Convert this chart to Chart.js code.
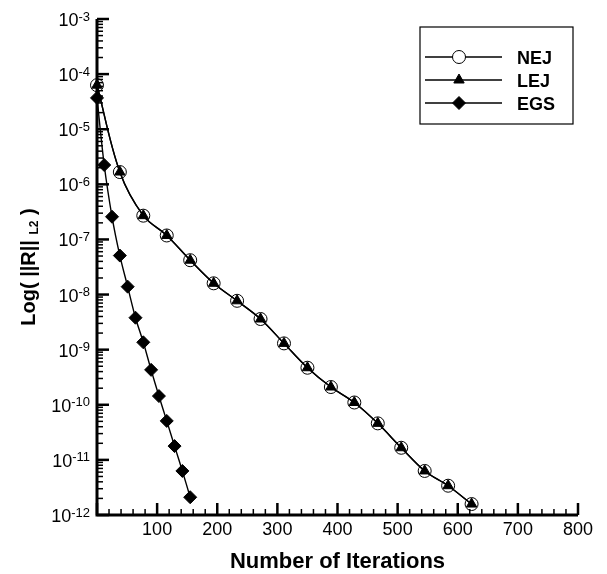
<!DOCTYPE html>
<html>
<head>
<meta charset="utf-8">
<script src="https://cdn.jsdelivr.net/npm/chart.js@4.4.0/dist/chart.umd.min.js"></script>
<style>
  html, body { margin: 0; padding: 0; background: #fff; }
  #wrap { width: 607px; height: 574px; }
</style>
</head>
<body>
<div id="wrap"><canvas id="resChart" width="607" height="574"></canvas></div>
<script>
// Residual history
const iterNEJ = [0, 38, 77, 116, 155, 194, 233, 272, 311, 350, 389, 428, 467, 506, 545, 584, 623];
const resNEJ = [6.3e-5, 1.67e-6, 2.7e-7, 1.18e-7, 4.2e-8, 1.6e-8, 7.7e-9, 3.6e-9, 1.3e-9, 4.7e-10, 2.1e-10, 1.1e-10, 4.6e-11, 1.66e-11, 6.3e-12, 3.4e-12, 1.58e-12];
const iterLEJ = [0, 38, 77, 116, 155, 194, 233, 272, 311, 350, 389, 428, 467, 506, 545, 584, 623];
const resLEJ = [6.3e-5, 1.67e-6, 2.7e-7, 1.18e-7, 4.2e-8, 1.6e-8, 7.7e-9, 3.6e-9, 1.3e-9, 4.7e-10, 2.1e-10, 1.1e-10, 4.6e-11, 1.66e-11, 6.3e-12, 3.4e-12, 1.58e-12];
const iterEGS = [0, 12, 25, 38, 51, 64, 77, 90, 103, 116, 129, 142, 155];
const resEGS = [3.7e-5, 2.24e-6, 2.58e-7, 5.1e-8, 1.39e-8, 3.8e-9, 1.36e-9, 4.3e-10, 1.44e-10, 5.1e-11, 1.78e-11, 6.3e-12, 2.1e-12];

const seriesNames = ['NEJ', 'LEJ', 'EGS'];
const xTickLabels = [100, 200, 300, 400, 500, 600, 700, 800];
const yTickExponents = [-3, -4, -5, -6, -7, -8, -9, -10, -11, -12];

const FONT = '"Liberation Sans", Arial, sans-serif';

function toPoints(xs, ys) {
    return xs.map((v, i) => ({ x: v, y: ys[i] }));
}

function line(ctx, x1, y1, x2, y2) {
    ctx.beginPath();
    ctx.moveTo(x1, y1);
    ctx.lineTo(x2, y2);
    ctx.stroke();
}

function drawShape(ctx, style, r, cx, cy) {
    if (style === 'circle') {
        ctx.arc(cx, cy, r, 0, Math.PI * 2);
    } else if (style === 'triangle') {
        ctx.moveTo(cx, cy - r);
        ctx.lineTo(cx + r * 0.866, cy + r * 0.5);
        ctx.lineTo(cx - r * 0.866, cy + r * 0.5);
        ctx.closePath();
    } else {
        ctx.moveTo(cx, cy - r);
        ctx.lineTo(cx + r, cy);
        ctx.lineTo(cx, cy + r);
        ctx.lineTo(cx - r, cy);
        ctx.closePath();
    }
}

// axes with inward ticks, drawn before the data so markers sit on top
const axesPlugin = {
    id: 'tecAxes',
    beforeDatasetsDraw(chart) {
        const { ctx, chartArea: a } = chart;
        const x = chart.scales.x, y = chart.scales.y;
        ctx.save();
        ctx.strokeStyle = '#000';
        for (let v = 0; v <= 800; v += 20) {
            const px = x.getPixelForValue(v);
            const major = v % 100 === 0;
            ctx.lineWidth = major ? 2.5 : 1.5;
            line(ctx, px, a.bottom, px, a.bottom - (major ? 12 : 6));
        }
        yTickExponents.forEach(e => {
            for (let m = 1; m <= 9; m++) {
                if (e === -3 && m > 1) break;
                const py = y.getPixelForValue(m * Math.pow(10, e));
                const major = m === 1;
                ctx.lineWidth = major ? 2.5 : 1.5;
                line(ctx, a.left, py, a.left + (major ? 12 : 6), py);
            }
        });
        ctx.lineWidth = 3;
        ctx.beginPath();
        ctx.moveTo(a.left, a.top);
        ctx.lineTo(a.left, a.bottom);
        ctx.lineTo(a.right, a.bottom);
        ctx.stroke();
        ctx.restore();
    },
    afterDraw(chart) {
        const { ctx, chartArea: a } = chart;
        const x = chart.scales.x, y = chart.scales.y;
        ctx.save();
        ctx.fillStyle = '#000';

        // x tick labels
        ctx.font = '18px ' + FONT;
        ctx.textAlign = 'center';
        ctx.textBaseline = 'alphabetic';
        xTickLabels.forEach(v => {
            ctx.fillText(String(v), x.getPixelForValue(v), a.bottom + 20);
        });

        // y tick labels 10^e
        ctx.textAlign = 'right';
        yTickExponents.forEach(e => {
            const py = y.getPixelForValue(Math.pow(10, e));
            ctx.font = '13px ' + FONT;
            const sup = String(e);
            const supW = ctx.measureText(sup).width;
            ctx.fillText(sup, a.left - 7, py + 1.5);
            ctx.font = '18px ' + FONT;
            ctx.fillText('10', a.left - 7 - supW, py + 7);
        });

        // x title
        ctx.font = 'bold 22px ' + FONT;
        ctx.textAlign = 'center';
        ctx.fillText('Number of Iterations', (a.left + a.right) / 2, 568);

        // y title: Log( ||R|| L2 ) with subscript
        ctx.save();
        ctx.translate(35, (a.top + a.bottom) / 2);
        ctx.rotate(-Math.PI / 2);
        ctx.textAlign = 'left';
        const partA = 'Log( ||R|| ', partB = 'L2', partC = ' )';
        ctx.font = 'bold 20px ' + FONT;
        const wA = ctx.measureText(partA).width, wC = ctx.measureText(partC).width;
        ctx.font = 'bold 12px ' + FONT;
        const wB = ctx.measureText(partB).width;
        const sx = -(wA + wB + wC) / 2;
        ctx.font = 'bold 20px ' + FONT;
        ctx.fillText(partA, sx, 0);
        ctx.font = 'bold 12px ' + FONT;
        ctx.fillText(partB, sx + wA, 3);
        ctx.font = 'bold 20px ' + FONT;
        ctx.fillText(partC, sx + wA + wB, 0);
        ctx.restore();

        // legend box
        const box = { left: 420, top: 27, right: 573, bottom: 124 };
        ctx.lineWidth = 1.2;
        ctx.strokeStyle = '#000';
        ctx.strokeRect(box.left, box.top, box.right - box.left, box.bottom - box.top);
        const rows = [57, 80, 103];
        chart.data.datasets.forEach((ds, i) => {
            const ry = rows[i];
            ctx.lineWidth = 1.3;
            ctx.strokeStyle = '#000';
            line(ctx, 425, ry, 502, ry);
            ctx.fillStyle = ds.pointBackgroundColor;
            ctx.lineWidth = ds.pointBorderWidth;
            ctx.beginPath();
            drawShape(ctx, ds.pointStyle, ds.pointRadius, 459, ry);
            if (ds.pointStyle === 'circle') {
                ctx.fillStyle = '#fff';
            }
            ctx.fill();
            ctx.stroke();
            ctx.fillStyle = '#000';
            ctx.font = 'bold 18px ' + FONT;
            ctx.textAlign = 'left';
            ctx.fillText(ds.label, 517, ry + 6.5);
        });
        ctx.restore();
    }
};

const ctx = document.getElementById('resChart').getContext('2d');
new Chart(ctx, {
    type: 'line',
    data: {
        datasets: [
            {
                label: seriesNames[0],
                data: toPoints(iterNEJ, resNEJ),
                borderColor: '#000',
                borderWidth: 1.4,
                tension: 0.35,
                pointStyle: 'circle',
                pointRadius: 6.5,
                pointBorderWidth: 1,
                pointBackgroundColor: 'rgba(0,0,0,0)',
                pointBorderColor: '#000',
                order: 2
            },
            {
                label: seriesNames[1],
                data: toPoints(iterLEJ, resLEJ),
                borderColor: '#000',
                borderWidth: 1.4,
                tension: 0.35,
                pointStyle: 'triangle',
                pointRadius: 6,
                pointBorderWidth: 1,
                pointBackgroundColor: '#000',
                pointBorderColor: '#000',
                order: 1
            },
            {
                label: seriesNames[2],
                data: toPoints(iterEGS, resEGS),
                borderColor: '#000',
                borderWidth: 1.4,
                tension: 0.3,
                pointStyle: 'rectRot',
                pointRadius: 6.5,
                pointBorderWidth: 1,
                pointBackgroundColor: '#000',
                pointBorderColor: '#000',
                order: 0
            }
        ]
    },
    options: {
        responsive: false,
        animation: false,
        events: [],
        clip: false,
        layout: { padding: { left: 97, right: 29, top: 19, bottom: 59 } },
        plugins: {
            legend: { display: false },
            tooltip: { enabled: false }
        },
        scales: {
            x: { type: 'linear', min: 0, max: 800, display: false },
            y: { type: 'logarithmic', min: 1e-12, max: 1e-3, display: false }
        }
    },
    plugins: [axesPlugin]
});
</script>
</body>
</html>
